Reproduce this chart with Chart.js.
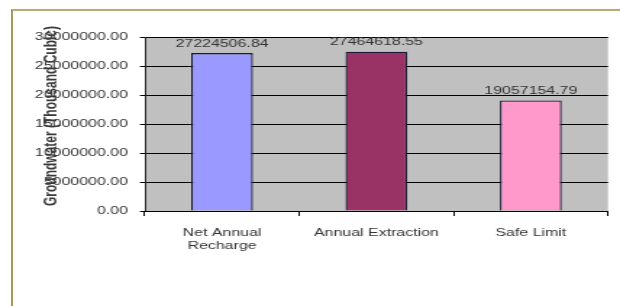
<!DOCTYPE html>
<html>
<head>
<meta charset="utf-8">
<script src="https://cdn.jsdelivr.net/npm/chart.js@4.4.1/dist/chart.umd.min.js"></script>
<style>
  html, body { margin: 0; padding: 0; background: #fff; overflow: hidden; }
  #wrap { position: relative; width: 620px; height: 306px; }
  #frame {
    position: absolute; left: 11px; top: 9px; right: -4px; bottom: -4px;
    border-left: 2px solid #a8985c; border-top: 2px solid #b8aa78;
  }
  canvas { position: absolute; left: 0; top: 0; }
</style>
</head>
<body>
<div id="wrap">
  <div id="frame"></div>
  <!-- el original esta estirado en horizontal: se dibuja angosto y se estira con CSS -->
  <canvas id="groundChart" width="428" height="306" style="width:620px;height:306px"></canvas>
</div>
<script>
const categories = [['Net Annual', 'Recharge'], 'Annual Extraction', 'Safe Limit'];
const volumes = [27224506.84, 27464618.55, 19057154.79];
const barColors = ['#9999ff', '#993366', '#ff99cc'];
const yTitle = 'Groundwater (Thousand Cubic)';

const FONT = '"Liberation Sans", Arial, sans-serif';

// fondo gris del area de trazado
const plotBackground = {
  id: 'plotBackground',
  beforeDraw(chart) {
    const { ctx, chartArea: a } = chart;
    ctx.save();
    ctx.fillStyle = '#c0c0c0';
    ctx.fillRect(a.left, a.top, a.right - a.left, a.bottom - a.top);
    ctx.restore();
  }
};

// etiquetas de valor encima de cada barra
const valueLabels = {
  id: 'valueLabels',
  afterDatasetsDraw(chart) {
    const ctx = chart.ctx;
    const meta = chart.getDatasetMeta(0);
    ctx.save();
    ctx.font = '11px ' + FONT;
    ctx.fillStyle = '#333';
    ctx.textAlign = 'center';
    ctx.textBaseline = 'bottom';
    meta.data.forEach((bar, i) => {
      ctx.fillText(volumes[i].toFixed(2), bar.x, bar.y - 4);
    });
    ctx.restore();
  }
};

// titulo del eje Y, encimado sobre las etiquetas como en el original
const yAxisTitle = {
  id: 'yAxisTitle',
  afterDraw(chart) {
    const ctx = chart.ctx;
    ctx.save();
    ctx.translate(36, 116);
    ctx.rotate(-Math.PI / 2);
    ctx.font = 'bold 12px ' + FONT;
    ctx.fillStyle = '#3a3a3a';
    ctx.textAlign = 'center';
    ctx.textBaseline = 'middle';
    ctx.fillText(yTitle, 0, 0);
    ctx.restore();
  }
};

const config = {
  type: 'bar',
  data: {
    labels: categories,
    datasets: [{
      data: volumes,
      backgroundColor: barColors,
      borderColor: '#1a1a33',
      borderWidth: 1.3,
      barPercentage: 0.8,
      categoryPercentage: 0.5
    }]
  },
  options: {
    responsive: false,
    animation: false,
    devicePixelRatio: 1,
    layout: { padding: { top: 37, right: 8.3, left: 0, bottom: 0 } },
    plugins: {
      legend: { display: false },
      tooltip: { enabled: false }
    },
    scales: {
      x: {
        afterFit(scale) { scale.height = 95; },
        grid: {
          offset: true,
          drawOnChartArea: false,
          drawTicks: true,
          tickLength: 5,
          color: '#000'
        },
        border: { color: '#000', width: 1 },
        ticks: {
          color: '#333',
          padding: 10,
          font: { family: FONT, size: 11 }
        }
      },
      y: {
        min: 0,
        max: 30000000,
        afterFit(scale) { scale.width = 100; },
        grid: {
          color: '#000',
          lineWidth: 1,
          drawTicks: true,
          tickLength: 3.4
        },
        border: { color: '#000', width: 0.8 },
        ticks: {
          stepSize: 5000000,
          color: '#333',
          padding: 8.3,
          font: { family: FONT, size: 11 },
          callback: (v) => v.toFixed(2)
        }
      }
    }
  },
  plugins: [plotBackground, valueLabels, yAxisTitle]
};

new Chart(document.getElementById('groundChart'), config);
</script>
</body>
</html>
